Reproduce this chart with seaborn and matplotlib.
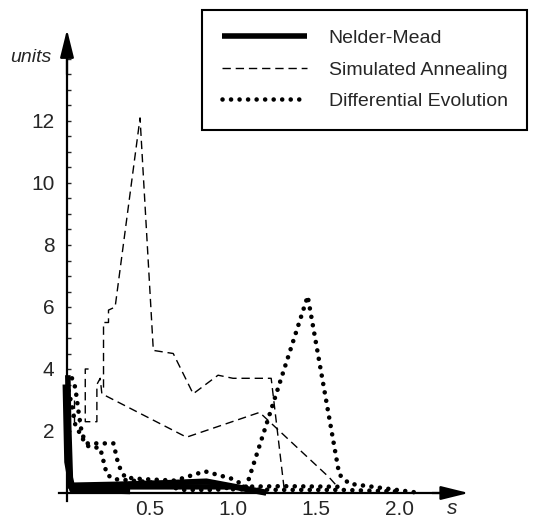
import pandas as pd
import matplotlib.pyplot as plt
import seaborn as sns
from matplotlib.lines import Line2D

# -------------------------------
# data (s, units), one list per run
# -------------------------------
methods = ['Nelder-Mead', 'Simulated Annealing', 'Differential Evolution']

nm1_s = [0.005, 0.01, 0.02, 0.03, 0.3, 0.6, 0.84, 1.2]
nm1_y = [3.8, 2.2, 0.5, 0.25, 0.28, 0.33, 0.38, 0.02]
nm2_s = [-0.01, 0.0, 0.03, 0.38]
nm2_y = [3.5, 1.0, 0.1, 0.05]
nm3_s = [0.0, 0.02, 0.5, 1.0, 1.2]
nm3_y = [2.0, 0.2, 0.2, 0.2, 0.0]

sa1_s = [0.22, 0.22, 0.25, 0.25, 0.29, 0.44, 0.52, 0.64, 0.76, 0.91, 1.0, 1.23, 1.31]
sa1_y = [3.4, 5.5, 5.5, 5.9, 6.0, 12.1, 4.6, 4.5, 3.2, 3.8, 3.7, 3.7, 0.05]
sa2_s = [0.13, 0.11, 0.11, 0.18, 0.18, 0.20, 0.21, 0.72, 1.16, 1.58, 1.63]
sa2_y = [4.0, 4.0, 2.3, 2.3, 3.5, 3.7, 3.2, 1.8, 2.6, 0.5, 0.2]
sa3_s = [0.04, 0.04, 0.07]
sa3_y = [3.0, 2.3, 2.3]

de1_s = [0.03, 0.05, 0.07, 0.09, 0.12, 0.2, 0.28, 0.31, 0.35, 0.45, 0.65, 0.83,
         1.0, 1.08, 1.45, 1.64, 1.7, 2.1]
de1_y = [3.7, 3.4, 2.6, 1.9, 1.6, 1.6, 1.6, 0.9, 0.5, 0.45, 0.4, 0.7,
         0.45, 0.2, 6.35, 0.6, 0.3, 0.02]
de2_s = [0.01, 0.03, 0.05, 0.08, 0.1, 0.13, 0.2, 0.24, 0.28, 0.5, 0.7, 0.9, 1.0, 1.3, 1.67]
de2_y = [3.3, 2.8, 2.2, 1.9, 1.7, 1.5, 1.45, 0.6, 0.45, 0.35, 0.1, 0.1, 0.2, 0.22, 0.2]
de3_s = [1.0, 1.3, 1.65, 2.0]
de3_y = [0.12, 0.1, 0.1, 0.05]

y_ticks = [2, 4, 6, 8, 10, 12]
x_ticks = [0.5, 1.0, 1.5, 2.0]


def runs_frame(runs):
    parts = []
    for i, (s, y) in enumerate(runs):
        parts.append(pd.DataFrame({'s': s, 'units': y, 'run': i}))
    return pd.concat(parts, ignore_index=True)


nm_df = runs_frame([(nm1_s, nm1_y), (nm2_s, nm2_y), (nm3_s, nm3_y)])
sa_df = runs_frame([(sa1_s, sa1_y), (sa2_s, sa2_y), (sa3_s, sa3_y)])
de_df = runs_frame([(de1_s, de1_y), (de2_s, de2_y), (de3_s, de3_y)])

# -------------------------------
# style
# -------------------------------
sns.set_style('white')
plt.rcParams['font.family'] = ['Liberation Sans', 'DejaVu Sans']

nm_kw = dict(color='black', linewidth=4.0, linestyle='-', solid_capstyle='butt')
sa_kw = dict(color='black', linewidth=1.0, linestyle=(0, (6, 3.5)))
de_kw = dict(color='black', linewidth=3.3, linestyle=(0, (0.01, 1.85)), dash_capstyle='round')

fig = plt.figure(figsize=(5.33, 5.21), dpi=100)
ax = fig.add_axes([0, 0, 1, 1])

for df, kw in [(sa_df, sa_kw), (de_df, de_kw), (nm_df, nm_kw)]:
    sns.lineplot(data=df, x='s', y='units', units='run', estimator=None,
                 sort=False, legend=False, ax=ax, **kw)

# pixel mapping of the original: s=0 at 67px, 166px per unit; units=0 at 493px, 31px per unit
ax.set_xlim(-67 / 166, (533 - 67) / 166)
ax.set_ylim(-(521 - 493) / 31, 493 / 31)

# axes through the origin with arrow heads
for side in ['top', 'right']:
    ax.spines[side].set_visible(False)
ax.spines['left'].set_position(('data', 0))
ax.spines['bottom'].set_position(('data', 0))
ax.spines['left'].set_bounds(-0.25, 14.0)
ax.spines['bottom'].set_bounds(-0.05, 2.3)
for side in ['left', 'bottom']:
    ax.spines[side].set_linewidth(1.6)
    ax.spines[side].set_color('black')
arrow = dict(arrowstyle='-|>,head_length=1.7,head_width=0.42', color='black',
             lw=1.6, shrinkA=0, shrinkB=0)
ax.annotate('', xy=(0, 14.95), xytext=(0, 13.5), arrowprops=arrow)
ax.annotate('', xy=(2.42, 0), xytext=(2.2, 0), arrowprops=arrow)

ax.set_yticks(y_ticks)
ax.set_yticks([v / 2 for v in range(1, 29)], minor=True)
ax.set_xticks(x_ticks)
ax.set_xticklabels(['%.1f' % v for v in x_ticks])
ax.tick_params(axis='y', which='both', direction='in', length=3, width=1,
               labelsize=15, pad=9, left=True)
ax.tick_params(axis='x', length=0, labelsize=15, pad=5)

ax.set_xlabel('s', fontsize=15, style='italic')
ax.xaxis.label.set_va('center')
ax.xaxis.set_label_coords(452 / 533, 1 - 508 / 521)
ax.set_ylabel('units', fontsize=14, style='italic', rotation=0, ha='center', va='center')
ax.yaxis.set_label_coords(31 / 533, 1 - 57 / 521)

handles = [Line2D([], [], **nm_kw), Line2D([], [], **sa_kw), Line2D([], [], **de_kw)]
leg = ax.legend(handles, methods, loc='upper right',
                bbox_to_anchor=(527 / 533, 1 - 10 / 521), bbox_transform=fig.transFigure,
                fontsize=14, frameon=True, fancybox=False, framealpha=1,
                edgecolor='black', handlelength=4.4, handletextpad=1.1,
                labelspacing=0.72, borderpad=1.0, borderaxespad=0)
leg.get_frame().set_linewidth(1.5)

plt.savefig('out.png', dpi=100)
